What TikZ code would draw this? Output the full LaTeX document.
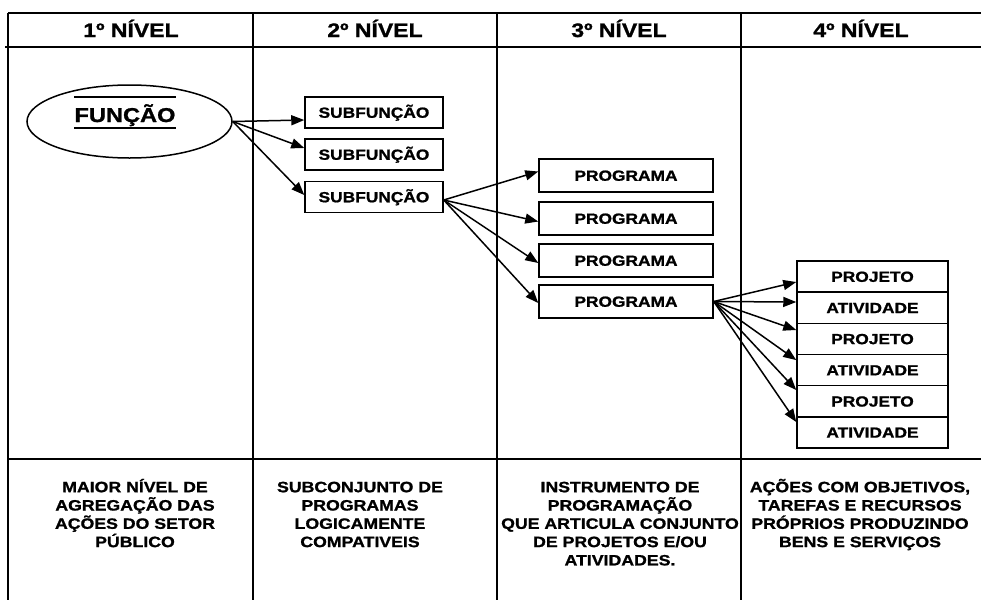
\documentclass[tikz,border=0pt]{standalone}
\usepackage{fontspec}
\setmainfont{Liberation Sans}[FakeStretch=1.18,BoldFeatures={FakeBold=1.2}]
\usetikzlibrary{arrows.meta,shapes.geometric,calc}
\begin{document}
\begin{tikzpicture}[x=1pt,y=-1pt,
  grid/.style={line width=1.8pt},
  box/.style={draw,line width=1.5pt,font=\bfseries\fontsize{14.7}{16}\selectfont,text height=10.5pt,text depth=0pt,inner sep=0pt},
  subbox/.style={box,minimum width=138pt,minimum height=31pt},
  progbox/.style={box,minimum width=174pt,minimum height=33pt},
  actbox/.style={box,minimum width=151pt,minimum height=31.17pt},
  arr/.style={line width=1.5pt,-{Triangle[length=13pt,width=10pt]}},
  head/.style={font=\bfseries\fontsize{19.5}{22}\selectfont,anchor=base,inner sep=0pt},
  desc/.style={font=\bfseries\fontsize{15}{18.3}\selectfont,align=center,anchor=north,inner sep=0pt}]
\useasboundingbox (0,0) rectangle (981,600);
% table grid
\draw[grid] (8,13) -- (981,13);
\draw[grid] (5,47) -- (981,47);
\draw[grid] (8,459) -- (981,459);
\foreach \x in {8,253,497,741} \draw[grid] (\x,13) -- (\x,600);
% headers
\node[head] (h1) at (131,37) {1º NÍVEL};
\node[head] (h2) at (375,37) {2º NÍVEL};
\node[head] (h3) at (619,37) {3º NÍVEL};
\node[head] (h4) at (861,37) {4º NÍVEL};
% function
\node[draw,ellipse,line width=1.5pt,minimum width=205pt,minimum height=73pt,inner sep=0pt] (fun) at (129.5,121.5) {};
\node[font=\bfseries\fontsize{20}{22}\selectfont,anchor=base,inner sep=0pt] (funt) at (125,122) {FUNÇÃO};
\draw[line width=1.2pt] ([yshift=25pt]funt.base west) -- ([yshift=25pt]funt.base east);
\draw[line width=1.2pt] ([yshift=-6pt]funt.base west) -- ([yshift=-6pt]funt.base east);
% subfunctions
\node[subbox] (s1) at (374,112.5) {SUBFUNÇÃO};
\node[subbox] (s2) at (374,154.5) {SUBFUNÇÃO};
\node[subbox] (s3) at (374,197) {SUBFUNÇÃO};
% programs
\node[progbox] (p1) at (626,175.5) {PROGRAMA};
\node[progbox] (p2) at (626,218.5) {PROGRAMA};
\node[progbox] (p3) at (626,260.5) {PROGRAMA};
\node[progbox] (p4) at (626,301.5) {PROGRAMA};
% projects / activities
\node[actbox] (a1) at (872.5,276.6) {PROJETO};
\node[actbox] (a2) at (872.5,307.8) {ATIVIDADE};
\node[actbox] (a3) at (872.5,338.9) {PROJETO};
\node[actbox] (a4) at (872.5,370.1) {ATIVIDADE};
\node[actbox] (a5) at (872.5,401.3) {PROJETO};
\node[actbox] (a6) at (872.5,432.4) {ATIVIDADE};
% arrows
\draw[arr] (fun.east) -- ([yshift=-7.5pt]s1.west);
\draw[arr] (fun.east) -- ([yshift=6.5pt]s2.west);
\draw[arr] (fun.east) -- ([yshift=2pt]s3.west);
\draw[arr] ([yshift=-3pt]s3.east) -- ([yshift=4pt]p1.west);
\draw[arr] ([yshift=-3pt]s3.east) -- ([yshift=-3pt]p2.west);
\draw[arr] ([yshift=-3pt]s3.east) -- ([yshift=-2.5pt]p3.west);
\draw[arr] ([yshift=-3pt]s3.east) -- ([yshift=-1.5pt]p4.west);
\draw[arr] (p4.east) -- ([yshift=-5.4pt]a1.west);
\draw[arr] (p4.east) -- ([yshift=5.8pt]a2.west);
\draw[arr] (p4.east) -- ([yshift=8.9pt]a3.west);
\draw[arr] (p4.east) -- ([yshift=10pt]a4.west);
\draw[arr] (p4.east) -- ([yshift=11.3pt]a5.west);
\draw[arr] (p4.east) -- ([yshift=10.4pt]a6.west);
% descriptions
\node[desc] (d1) at (135,478) {\rule{0pt}{14pt}MAIOR NÍVEL DE\\AGREGAÇÃO DAS\\AÇÕES DO SETOR\\PÚBLICO};
\node[desc] (d2) at (360,478) {\rule{0pt}{14pt}SUBCONJUNTO DE\\PROGRAMAS\\LOGICAMENTE\\COMPATIVEIS};
\node[desc] (d3) at (620,478) {\rule{0pt}{14pt}INSTRUMENTO DE\\PROGRAMAÇÃO\\QUE ARTICULA CONJUNTO\\DE PROJETOS E/OU\\ATIVIDADES.};
\node[desc] (d4) at (860,478) {\rule{0pt}{14pt}AÇÕES COM OBJETIVOS,\\TAREFAS E RECURSOS\\PRÓPRIOS PRODUZINDO\\BENS E SERVIÇOS};
\end{tikzpicture}
\end{document}
